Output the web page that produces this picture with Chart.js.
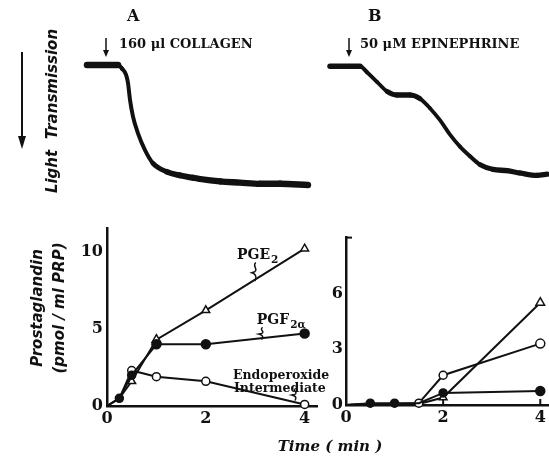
<!DOCTYPE html>
<html>
<head>
<meta charset="utf-8">
<script src="https://cdn.jsdelivr.net/npm/chart.js@4"></script>
<style>
  html, body { margin: 0; padding: 0; background: #fff; }
  #wrap { position: relative; width: 549px; height: 457px; overflow: hidden; }
  canvas { position: absolute; }
  .lbl { position: absolute; color: #111; white-space: nowrap; line-height: 1; }
  .serif { font-family: "DejaVu Serif", serif; font-weight: bold; }
  .rot { transform: translate(-50%, -50%) rotate(-90deg); font: italic bold 15px "DejaVu Sans", sans-serif; }
</style>
</head>
<body>
<div id="wrap">
  <canvas id="traceA" width="320" height="200" style="left:0;top:0"></canvas>
  <canvas id="traceB" width="229" height="200" style="left:320px;top:0"></canvas>
  <canvas id="prostA" width="270" height="230" style="left:60px;top:215px"></canvas>
  <canvas id="prostB" width="256" height="220" style="left:300px;top:225px"></canvas>

  <div class="lbl serif" style="left:127px;top:8px;font-size:16px">A</div>
  <div class="lbl serif" style="left:368px;top:8px;font-size:16px">B</div>
  <div class="lbl serif" style="left:119px;top:37px;font-size:13px">160 μl COLLAGEN</div>
  <div class="lbl serif" style="left:360px;top:37px;font-size:13px">50 μM EPINEPHRINE</div>
  <div class="lbl rot" style="left:52px;top:111px">Light&nbsp; Transmission</div>
  <div class="lbl rot" style="left:37px;top:308px">Prostaglandin</div>
  <div class="lbl rot" style="left:59px;top:308px">(pmol / ml PRP)</div>
  <div class="lbl" style="left:330px;top:446px;transform:translate(-50%,-50%);font:italic bold 15px 'DejaVu Serif', serif">Time ( min )</div>
</div>

<script>
// aggregation traces (time in s after start of recording, drop in light transmission in %)
const traceTimeA = [0, 15, 31, 35, 39, 41, 43, 46, 51, 58, 66, 80, 93, 106, 113, 133, 153, 173, 193, 221];
const traceLevelA = [0, 0, 0, 3, 8, 15, 29, 43, 57, 71, 82, 89, 92, 94, 95, 97, 98, 99, 99, 100];
const traceTimeB = [0, 15, 30, 37, 47, 57, 67, 80, 90, 100, 110, 120, 130, 140, 150, 163, 177, 190, 207, 217];
const traceLevelB = [1, 1, 1, 6, 14, 22, 25, 25, 28, 36, 46, 58, 68, 76, 83, 87, 88, 90, 92, 91];
const injectTime = 19;

// panel A, collagen (min, pmol/ml PRP)
const timeA = [0, 0.25, 0.5, 1, 2, 4];
const pge2A = [0, 0.5, 1.6, 4.3, 6.2, 10.2];
const pgf2aA = [0, 0.5, 2.0, 4.0, 4.0, 4.7];
const endoA = [0, 0.5, 2.3, 1.9, 1.6, 0.1];

// panel B, epinephrine
const timeB = [0, 0.5, 1, 1.5, 2, 4];
const pge2B = [0, 0.05, 0.05, 0.05, 0.4, 5.5];
const pgf2aB = [0, 0.1, 0.1, 0.1, 0.65, 0.75];
const endoB = [0, 0.05, 0.05, 0.1, 1.6, 3.3];

const xTicksA = [0, 2, 4];
const yTicksA = [0, 5, 10];
const xTicksB = [0, 2, 4];
const yTicksB = [0, 3, 6];

const INK = "#111";
Chart.defaults.font.family = '"DejaVu Serif", serif';
Chart.defaults.color = INK;

function pts(xs, ys) {
  return xs.map((x, i) => ({ x: x, y: ys[i] }));
}

// down arrow + injection mark on the traces
const injectPlugin = {
  id: "inject",
  afterDraw(chart, args, opts) {
    const ctx = chart.ctx;
    const x = chart.scales.x.getPixelForValue(opts.time);
    ctx.save();
    ctx.strokeStyle = INK;
    ctx.fillStyle = INK;
    ctx.lineWidth = 1.5;
    ctx.beginPath();
    ctx.moveTo(x, 38);
    ctx.lineTo(x, 52);
    ctx.stroke();
    ctx.beginPath();
    ctx.moveTo(x - 3, 50);
    ctx.lineTo(x + 3, 50);
    ctx.lineTo(x, 57);
    ctx.closePath();
    ctx.fill();
    if (opts.sideArrow) {
      ctx.lineWidth = 2;
      ctx.beginPath();
      ctx.moveTo(22, 52);
      ctx.lineTo(22, 138);
      ctx.stroke();
      ctx.beginPath();
      ctx.moveTo(18, 136);
      ctx.lineTo(26, 136);
      ctx.lineTo(22, 149);
      ctx.closePath();
      ctx.fill();
    }
    ctx.restore();
  },
};

// pen trace looks heavier where it runs flat
function penWidth(flat, steep) {
  return (c) => {
    const dx = Math.abs(c.p1.x - c.p0.x) || 1;
    const slope = Math.min(1, Math.abs(c.p1.y - c.p0.y) / dx);
    return flat - (flat - steep) * slope;
  };
}

function traceChart(id, times, levels, flat, steep, padding, sideArrow) {
  return new Chart(document.getElementById(id), {
    type: "line",
    data: {
      datasets: [
        {
          data: pts(times, levels),
          borderColor: INK,
          borderWidth: flat,
          segment: { borderWidth: penWidth(flat, steep) },
          borderCapStyle: "round",
          borderJoinStyle: "round",
          pointRadius: 0,
          cubicInterpolationMode: "monotone",
          clip: false,
        },
      ],
    },
    options: {
      responsive: false,
      animation: false,
      devicePixelRatio: 1,
      layout: { padding: padding },
      plugins: {
        legend: { display: false },
        tooltip: { enabled: false },
        inject: { time: injectTime, sideArrow: sideArrow },
      },
      scales: {
        x: { type: "linear", display: false, min: 0, max: times[times.length - 1] },
        y: { type: "linear", display: false, min: 0, max: 100, reverse: true },
      },
    },
    plugins: [injectPlugin],
  });
}

traceChart("traceA", traceTimeA, traceLevelA, 6.5, 4, { left: 87, top: 65, right: 12, bottom: 15 }, true);
traceChart("traceB", traceTimeB, traceLevelB, 5.5, 3.8, { left: 10, top: 65, right: 2, bottom: 15 }, false);

// labels with subscripts and the little wavy pointers
function drawSub(ctx, main, sub, x, y) {
  ctx.font = 'bold 14px "DejaVu Serif"';
  ctx.fillText(main, x, y);
  const w = ctx.measureText(main).width;
  ctx.font = 'bold 10.5px "DejaVu Serif"';
  ctx.fillText(sub, x + w + 1, y + 4);
}

function squiggle(ctx, x, y0, y1) {
  const len = y1 - y0;
  ctx.beginPath();
  ctx.moveTo(x + 1, y0);
  ctx.bezierCurveTo(x - 3, y0 + len * 0.2, x + 4, y0 + len * 0.35, x, y0 + len * 0.5);
  ctx.lineTo(x - 3, y0 + len * 0.55);
  ctx.bezierCurveTo(x + 3, y0 + len * 0.65, x + 1, y0 + len * 0.9, x, y1);
  ctx.stroke();
}

const notesPlugin = {
  id: "notes",
  afterDraw(chart, args, opts) {
    const ctx = chart.ctx;
    const sx = chart.scales.x;
    const sy = chart.scales.y;
    ctx.save();
    ctx.fillStyle = INK;
    ctx.strokeStyle = INK;
    ctx.lineWidth = 1.4;
    ctx.textBaseline = "alphabetic";
    (opts.subs || []).forEach((n) => {
      drawSub(ctx, n.main, n.sub, sx.getPixelForValue(n.x), sy.getPixelForValue(n.y));
    });
    (opts.texts || []).forEach((n) => {
      ctx.font = 'bold 12.5px "DejaVu Serif"';
      ctx.fillText(n.text, sx.getPixelForValue(n.x), sy.getPixelForValue(n.y));
    });
    (opts.waves || []).forEach((n) => {
      squiggle(ctx, sx.getPixelForValue(n.x), sy.getPixelForValue(n.y0), sy.getPixelForValue(n.y1));
    });
    if (opts.innerTicks) {
      ctx.lineWidth = 2;
      opts.innerTicks.forEach((v) => {
        const px = sx.getPixelForValue(v);
        ctx.beginPath();
        ctx.moveTo(px, sy.getPixelForValue(0));
        ctx.lineTo(px, sy.getPixelForValue(0) - 6);
        ctx.stroke();
      });
      const top = sy.getPixelForValue(sy.max);
      ctx.beginPath();
      ctx.moveTo(sx.left, top);
      ctx.lineTo(sx.left + 6, top);
      ctx.stroke();
    }
    ctx.restore();
  },
};

function series(xs, ys, style, fill, radius) {
  return {
    data: pts(xs, ys),
    borderColor: INK,
    borderWidth: 2,
    pointStyle: style,
    pointRadius: radius,
    pointBackgroundColor: fill,
    pointBorderColor: INK,
    pointBorderWidth: 1.5,
    tension: 0,
    clip: false,
  };
}

function prostChart(id, cfg) {
  return new Chart(document.getElementById(id), {
    type: "line",
    data: { datasets: cfg.datasets },
    options: {
      responsive: false,
      animation: false,
      devicePixelRatio: 1,
      layout: { padding: cfg.padding },
      plugins: {
        legend: { display: false },
        tooltip: { enabled: false },
        notes: cfg.notes,
      },
      scales: {
        x: {
          type: "linear",
          min: 0,
          max: cfg.xMax,
          grid: { display: false, drawTicks: false },
          border: { display: true, color: INK, width: 2.5 },
          ticks: { font: { size: 16, weight: "bold" }, padding: 3, maxRotation: 0 },
          afterBuildTicks: (s) => { s.ticks = cfg.xTicks.map((v) => ({ value: v })); },
          afterFit: (s) => { s.height = cfg.xHeight; },
        },
        y: {
          type: "linear",
          min: 0,
          max: cfg.yMax,
          grid: { display: false, drawTicks: false },
          border: { display: true, color: INK, width: 2.5 },
          ticks: { font: { size: 16, weight: "bold" }, padding: cfg.yPad },
          afterBuildTicks: (s) => { s.ticks = cfg.yTicks.map((v) => ({ value: v })); },
          afterFit: (s) => { s.width = cfg.yWidth; },
        },
      },
    },
    plugins: [notesPlugin],
  });
}

prostChart("prostA", {
  xMax: 4.25,
  yMax: 11.5,
  xTicks: xTicksA,
  yTicks: yTicksA,
  xHeight: 39,
  yWidth: 47,
  yPad: 4,
  padding: { top: 12, right: 13, left: 0, bottom: 0 },
  datasets: [
    series(timeA, pgf2aA, "circle", INK, [0, 4, 4, 4.5, 4.5, 4.5]),
    series(timeA, endoA, "circle", "#fff", [0, 0, 4, 4, 4, 4]),
    series(timeA, pge2A, "triangle", "#fff", [0, 0, 4.5, 5, 4.5, 4.5]),
  ],
  notes: {
    subs: [
      { main: "PGE", sub: "2", x: 2.63, y: 9.55 },
      { main: "PGF", sub: "2α", x: 3.03, y: 5.3 },
    ],
    texts: [
      { text: "Endoperoxide", x: 2.55, y: 1.73 },
      { text: "Intermediate", x: 2.57, y: 0.9 },
    ],
    waves: [
      { x: 2.99, y0: 9.3, y1: 8.1 },
      { x: 3.13, y0: 5.1, y1: 4.3 },
      { x: 3.8, y0: 1.15, y1: 0.35 },
    ],
  },
});

prostChart("prostB", {
  xMax: 4.19,
  yMax: 9,
  xTicks: xTicksB,
  yTicks: yTicksB,
  xHeight: 40,
  yWidth: 46,
  yPad: 3,
  padding: { top: 11, right: 0, left: 0, bottom: 0 },
  datasets: [
    series(timeB, pgf2aB, "circle", INK, [0, 4, 4, 0, 4, 4.5]),
    series(timeB, endoB, "circle", "#fff", [0, 0, 0, 4, 4, 4.5]),
    series(timeB, pge2B, "triangle", "#fff", [0, 0, 0, 0, 4.5, 5]),
  ],
  notes: { innerTicks: [2, 4] },
});
</script>
</body>
</html>
